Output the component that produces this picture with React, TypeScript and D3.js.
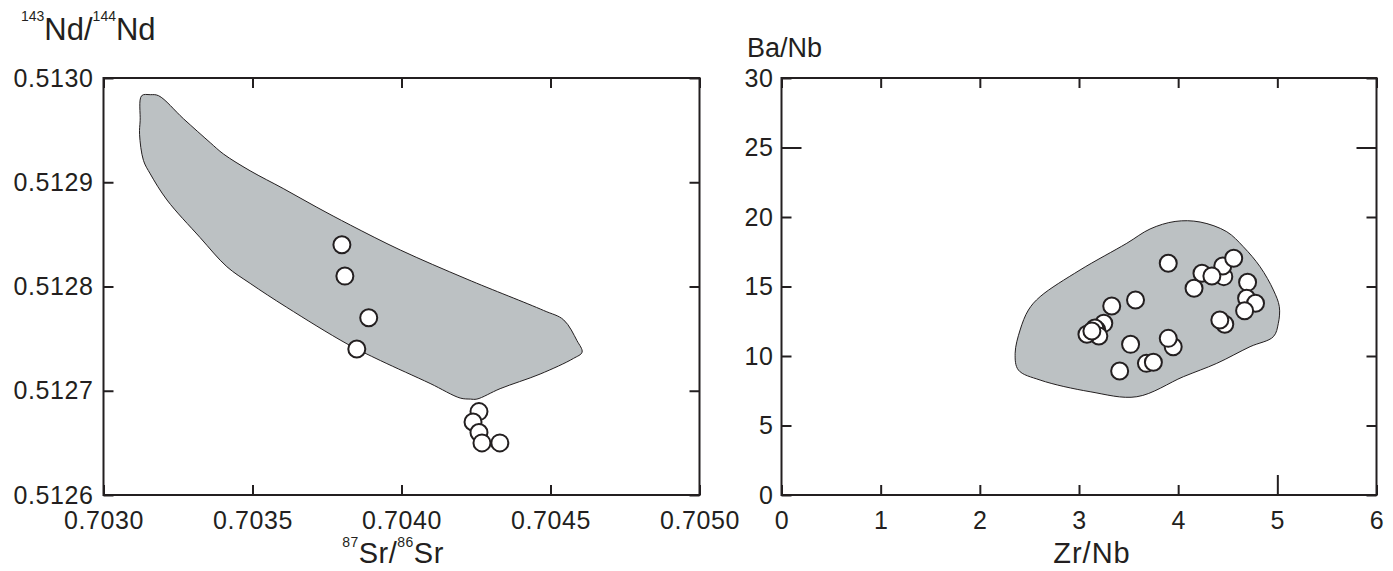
import React, { useEffect, useRef } from 'react';
import * as d3 from 'd3';

// 87Sr/86Sr vs 143Nd/144Nd samples
const srNdPoints: [number, number][] = [
  [0.7038, 0.51284],
  [0.70381, 0.51281],
  [0.70389, 0.51277],
  [0.70385, 0.51274],
  [0.70426, 0.51268],
  [0.70424, 0.51267],
  [0.70426, 0.51266],
  [0.70427, 0.51265],
  [0.70433, 0.51265],
];

// grey field outline, left panel
const srNdField: [number, number][] = [
  [0.703128, 0.512983], [0.703157, 0.512984], [0.703185, 0.512983],
  [0.703268, 0.512961], [0.703358, 0.512938], [0.703403, 0.512927],
  [0.703492, 0.512911], [0.703603, 0.512894], [0.703716, 0.512876],
  [0.703828, 0.512859], [0.703996, 0.512835], [0.70422, 0.512807],
  [0.704477, 0.512777], [0.704544, 0.512768], [0.704589, 0.512748],
  [0.704606, 0.512737], [0.704577, 0.512731], [0.704465, 0.512716],
  [0.704331, 0.512702], [0.704253, 0.512692], [0.704231, 0.512692],
  [0.704197, 0.512693], [0.704096, 0.512707], [0.703929, 0.512729],
  [0.703817, 0.512745], [0.703615, 0.51278], [0.703492, 0.512803],
  [0.703414, 0.512819], [0.703324, 0.512847], [0.703213, 0.512883],
  [0.703157, 0.512908], [0.703134, 0.512921], [0.703121, 0.512946],
  [0.703123, 0.512959],
];

// Zr/Nb vs Ba/Nb samples
const zrBaPoints: [number, number][] = [
  [3.9, 16.67], [3.33, 13.6], [3.57, 14.03], [3.25, 12.35], [3.18, 11.87],
  [3.16, 12.01], [3.2, 11.44], [3.08, 11.56], [3.13, 11.8], [3.52, 10.84],
  [3.41, 8.92], [3.68, 9.47], [3.75, 9.55], [3.95, 10.67], [3.9, 11.27],
  [4.16, 14.87], [4.24, 15.95], [4.46, 15.71], [4.45, 16.47], [4.34, 15.76],
  [4.56, 17.03], [4.7, 15.3], [4.69, 14.15], [4.78, 13.79], [4.67, 13.26],
  [4.47, 12.28], [4.42, 12.59],
];

// grey field outline, right panel
const zrBaField: [number, number][] = [
  [3.482, 18.11], [3.717, 19.14], [3.969, 19.68], [4.221, 19.64],
  [4.49, 18.94], [4.657, 17.86], [4.826, 16.42], [4.96, 14.75],
  [5.02, 13.55], [5.01, 12.35], [4.96, 11.39], [4.725, 10.67],
  [4.389, 9.47], [4.052, 8.51], [3.583, 7.07], [3.112, 7.43],
  [2.608, 8.27], [2.389, 8.99], [2.356, 10.19], [2.406, 11.87],
  [2.49, 13.31], [2.608, 14.27], [3.011, 16.19],
];

const srTicks = [0.703, 0.7035, 0.704, 0.7045, 0.705];
const ndTicks = [0.5126, 0.5127, 0.5128, 0.5129, 0.513];
const zrTicks = [0, 1, 2, 3, 4, 5, 6];
const baTicks = [0, 5, 10, 15, 20, 25, 30];

const ink = '#231f20';
const font = "'Liberation Sans', Arial, Helvetica, sans-serif";

function drawPanel(svg: any, o: any) {
  const x = d3.scaleLinear().domain(o.xDomain).range([o.left, o.right]);
  const y = d3.scaleLinear().domain(o.yDomain).range([o.bottom, o.top]);

  const g = svg.append('g');

  // field
  const line = d3.line()
    .x((d: any) => x(d[0]))
    .y((d: any) => y(d[1]))
    .curve(d3.curveCatmullRomClosed.alpha(0.5));
  g.append('path')
    .attr('d', line(o.field))
    .attr('fill', '#bcc1c3')
    .attr('stroke', ink)
    .attr('stroke-width', 1);

  // points
  g.selectAll('circle.pt').data(o.points).enter()
    .append('circle')
    .attr('class', 'pt')
    .attr('cx', (d: any) => x(d[0]))
    .attr('cy', (d: any) => y(d[1]))
    .attr('r', 8.5)
    .attr('fill', '#fff')
    .attr('stroke', ink)
    .attr('stroke-width', 2);

  // axes, ticks pointing inward
  const bottomAxis = g.append('g')
    .attr('transform', `translate(0,${o.bottom})`)
    .call(d3.axisBottom(x).tickValues(o.xTicks).tickFormat(o.xFormat)
      .tickSizeInner(-10).tickSizeOuter(0).tickPadding(16));
  const topAxis = g.append('g')
    .attr('transform', `translate(0,${o.top})`)
    .call(d3.axisTop(x).tickValues(o.xTicks).tickFormat(() => '')
      .tickSizeInner(-10).tickSizeOuter(0));
  const leftAxis = g.append('g')
    .attr('transform', `translate(${o.left},0)`)
    .call(d3.axisLeft(y).tickValues(o.yTicks).tickFormat(o.yFormat)
      .tickSizeInner(-10).tickSizeOuter(0).tickPadding(o.yPad));
  const rightAxis = g.append('g')
    .attr('transform', `translate(${o.right},0)`)
    .call(d3.axisRight(y).tickValues(o.yTicks).tickFormat(() => '')
      .tickSizeInner(-10).tickSizeOuter(0));

  ;[bottomAxis, topAxis, leftAxis, rightAxis].forEach(a => {
    a.select('.domain').remove();
    a.selectAll('line').attr('stroke', ink).attr('stroke-width', 2);
    a.selectAll('text')
      .attr('fill', ink)
      .attr('font-family', font)
      .attr('font-size', 25)
      .attr('letter-spacing', 0.6);
  });

  if (o.longX != null) {
    bottomAxis.selectAll('.tick').filter((d: any) => d === o.longX)
      .select('line').attr('y2', -20);
  }
  if (o.longY != null) {
    leftAxis.selectAll('.tick').filter((d: any) => d === o.longY)
      .select('line').attr('x2', 20);
    rightAxis.selectAll('.tick').filter((d: any) => d === o.longY)
      .select('line').attr('x2', -20);
  }

  // frame
  g.append('rect')
    .attr('x', o.left)
    .attr('y', o.top)
    .attr('width', o.right - o.left)
    .attr('height', o.bottom - o.top)
    .attr('fill', 'none')
    .attr('stroke', ink)
    .attr('stroke-width', 2);
}

export default function App() {
  const ref = useRef<SVGSVGElement>(null);

  useEffect(() => {
    const svg = d3.select(ref.current);
    svg.selectAll('*').remove();

    drawPanel(svg, {
      left: 103.5, right: 699.5, top: 78, bottom: 495,
      xDomain: [0.703, 0.705], yDomain: [0.5126, 0.513],
      xTicks: srTicks, yTicks: ndTicks,
      xFormat: d3.format('.4f'), yFormat: d3.format('.4f'),
      yPad: 10,
      field: srNdField, points: srNdPoints,
    });

    drawPanel(svg, {
      left: 781.5, right: 1376.5, top: 78, bottom: 495,
      xDomain: [0, 6], yDomain: [0, 30],
      xTicks: zrTicks, yTicks: baTicks,
      xFormat: d3.format('d'), yFormat: d3.format('d'),
      yPad: 8,
      longX: 5, longY: 25,
      field: zrBaField, points: zrBaPoints,
    });

    const t = svg.append('g')
      .attr('fill', ink)
      .attr('font-family', font);

    // y title, left
    const nd = t.append('text').attr('x', 21).attr('y', 40).attr('font-size', 31);
    nd.append('tspan').attr('font-size', 14).attr('dy', -19).text('143');
    nd.append('tspan').attr('dy', 19).text('Nd/');
    nd.append('tspan').attr('font-size', 14).attr('dy', -19).text('144');
    nd.append('tspan').attr('dy', 19).text('Nd');

    // x title, left
    const sr = t.append('text').attr('x', 393).attr('y', 563)
      .attr('text-anchor', 'middle').attr('font-size', 29).attr('letter-spacing', 0.5);
    sr.append('tspan').attr('font-size', 14).attr('dy', -16).text('87');
    sr.append('tspan').attr('dy', 16).text('Sr/');
    sr.append('tspan').attr('font-size', 14).attr('dy', -16).text('86');
    sr.append('tspan').attr('dy', 16).text('Sr');

    // right panel titles
    t.append('text').attr('x', 747).attr('y', 57).attr('font-size', 27).text('Ba/Nb');
    t.append('text').attr('x', 1092).attr('y', 563)
      .attr('text-anchor', 'middle').attr('font-size', 29).attr('letter-spacing', 1)
      .text('Zr/Nb');
  }, []);

  return (
    <div style={{ position: 'absolute', left: 0, top: 0 }}>
      <svg ref={ref} width={1393} height={571} style={{ display: 'block', background: '#fff' }} />
    </div>
  );
}
